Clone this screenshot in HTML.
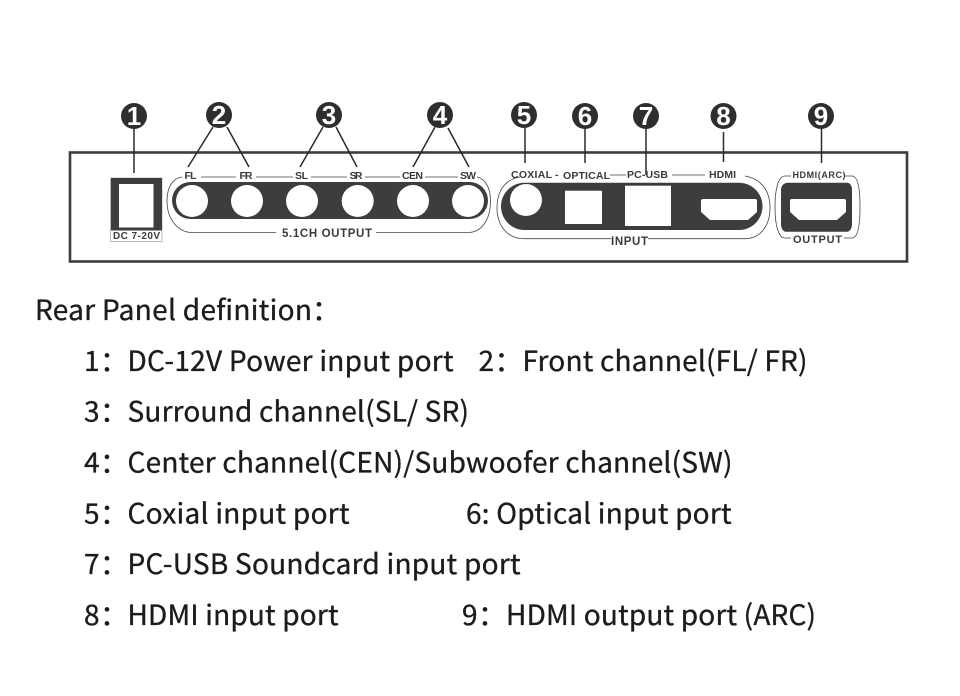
<!DOCTYPE html>
<html><head><meta charset="utf-8"><style>
html,body{margin:0;padding:0;background:#fff}
svg{display:block}
.d{font-family:"Noto Sans CJK SC","Liberation Sans",sans-serif;font-size:28px;fill:#1c1c1c;stroke:#1c1c1c;stroke-width:.35}
.l{font-family:"Liberation Sans",sans-serif;font-weight:700;fill:#3a3a3a;font-size:10.500px}
.n{font-family:"Liberation Sans",sans-serif;font-weight:700;fill:#fff;font-size:26px;text-anchor:middle}
.t{fill:none;stroke:#444;stroke-width:.8}
.c{stroke:#2a2a2a;stroke-width:1.5;fill:none}
</style></head><body>
<svg width="960" height="696" viewBox="0 0 960 696" xmlns="http://www.w3.org/2000/svg">
<defs><filter id="b" x="-2%" y="-2%" width="104%" height="104%"><feGaussianBlur stdDeviation="0.35"/></filter></defs>
<g filter="url(#b)">
<rect x="70" y="152.500" width="837" height="109" fill="#fff" stroke="#3c3c3c" stroke-width="2.600"/>
<g class="c">
<path d="M134 128V173M213 127L188 167M227 127L249 167M323 127L300 167M336 127L357 167M435 127L413 167M448 128L469 167M525 128V163M585 128V163M646 128V175M723.500 132V162M821.500 128V163"/>
</g>
<g fill="#2e2e2e">
<circle cx="134" cy="116" r="13"/><circle cx="219" cy="115" r="13"/><circle cx="329" cy="115" r="13"/><circle cx="440" cy="115" r="13"/><circle cx="524" cy="115" r="13"/><circle cx="585" cy="116" r="13"/><circle cx="646" cy="116" r="13"/><circle cx="723.500" cy="116" r="13"/><circle cx="821" cy="116" r="13"/>
</g>
<g class="n">
<text x="134" y="125">1</text><text x="219" y="124">2</text><text x="329" y="124">3</text><text x="440" y="124">4</text><text x="524" y="124">5</text><text x="585" y="125">6</text><text x="646" y="125">7</text><text x="723.500" y="125">8</text><text x="821" y="125">9</text>
</g>
<rect x="110.500" y="178" width="51.500" height="63.500" fill="#fff" stroke="#bbb" stroke-width="1"/>
<rect x="111" y="178" width="51" height="52.500" fill="#3c3c3c"/>
<rect x="119" y="184" width="34.500" height="43.500" fill="#fff"/>
<text class="l" x="113" y="239" textLength="47" style="font-size:10px">DC 7-20V</text>
<rect x="172" y="182" width="316" height="37" rx="18.500" fill="#3c3c3c"/>
<g fill="#fff"><circle cx="192" cy="201" r="16"/><circle cx="247" cy="201" r="16"/><circle cx="302" cy="201" r="16"/><circle cx="357.700" cy="201" r="16"/><circle cx="413" cy="201" r="16"/><circle cx="468" cy="201" r="16"/></g>
<path class="t" d="M182 177C173 178 167 187 167 201C167 219 178 232.500 192 232.500H276M376 232.500H468C482 232.500 490.500 219 490.500 201C490.500 187 485 179 477 177M201 177H236M256 177H293M311 177H347M365 177H400M425 177H458"/>
<text class="l" x="184.500" y="179" textLength="12">FL</text><text class="l" x="239.500" y="179" textLength="13">FR</text><text class="l" x="295" y="179" textLength="13">SL</text><text class="l" x="349.500" y="179" textLength="13">SR</text><text class="l" x="402" y="179" textLength="21">CEN</text><text class="l" x="460" y="179" textLength="16">SW</text>
<text class="l" x="282" y="237" textLength="90" style="font-size:11.500px">5.1CH OUTPUT</text>
<rect x="501" y="182.700" width="261.500" height="47.300" rx="23.600" fill="#3c3c3c"/>
<circle cx="526" cy="200" r="16" fill="#fff"/>
<rect x="565" y="190.700" width="37" height="33.300" fill="#fff"/>
<rect x="625" y="185.700" width="46" height="40.300" fill="#fff"/>
<path d="M701 201Q701 199 703 199H755Q757 199 757 201V212L748 220H710L701 212Z" fill="#fff"/>
<path class="t" d="M520 177C506 179 497 190 497 208C497 226 508 238.700 524 238.700H611M648 238.700H745C760 238.700 770 226 770 208C770 190 761 179 745 176M610 175H626M672 175H705"/>
<text class="l" x="511" y="178" textLength="41">COXIAL</text>
<text class="l" x="555" y="178" textLength="3">-</text>
<text class="l" x="563" y="179" textLength="47">OPTICAL</text>
<text class="l" x="627" y="178" textLength="41">PC-USB</text>
<text class="l" x="709" y="178" textLength="27">HDMI</text>
<text class="l" x="611" y="245" textLength="37" style="font-size:11.500px">INPUT</text>
<path d="M787 182.700H848Q852 184 852 190V224Q852 230 848 231.700H785Q781 230 781 224V190Q781 184 787 182.700Z" fill="#3c3c3c"/>
<path d="M790 201Q790 199 792 199H844Q846 199 846 201V212L837 220H799L790 212Z" fill="#fff"/>
<path class="t" d="M791 176H785C778 176 775 190 775 207C775 224 778 238 785 238H791M844 238H852C858 238 860 224 860 207C860 190 858 176 852 176H845"/>
<text class="l" x="792.500" y="178" textLength="53" style="font-size:9px">HDMI(ARC)</text>
<text class="l" x="793" y="243" textLength="49" style="font-size:11px">OUTPUT</text>
</g>
<g class="d">
<text x="35" y="320" textLength="277">Rear Panel definition</text><text x="312" y="320">：</text>
<text x="84" y="371">1</text><text x="100" y="371">：</text><text x="127.500" y="371" textLength="326">DC-12V Power input port</text>
<text x="478.500" y="371">2</text><text x="494.500" y="371">：</text><text x="522.500" y="371" textLength="285">Front channel(FL/ FR)</text>
<text x="84" y="421.700">3</text><text x="100" y="421.700">：</text><text x="127.500" y="421.700" textLength="341.500">Surround channel(SL/ SR)</text>
<text x="84" y="472.500">4</text><text x="100" y="472.500">：</text><text x="127.500" y="472.500" textLength="605">Center channel(CEN)/Subwoofer channel(SW)</text>
<text x="84" y="523.300">5</text><text x="100" y="523.300">：</text><text x="127.500" y="523.300" textLength="222">Coxial input port</text>
<text x="466" y="523.300" textLength="265.500">6: Optical input port</text>
<text x="84" y="574.200">7</text><text x="100" y="574.200">：</text><text x="127.500" y="574.200" textLength="393">PC-USB Soundcard input port</text>
<text x="84" y="625">8</text><text x="100" y="625">：</text><text x="127.500" y="625" textLength="211">HDMI input port</text>
<text x="462" y="625">9</text><text x="478" y="625">：</text><text x="506" y="625" textLength="310">HDMI output port (ARC)</text>
</g>
</svg>
</body></html>
